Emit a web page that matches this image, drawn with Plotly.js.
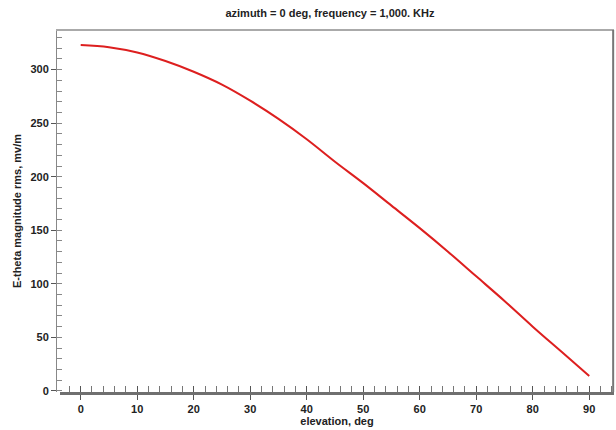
<!DOCTYPE html>
<html>
<head>
<meta charset="utf-8">
<script src="https://cdn.plot.ly/plotly-3.0.1.min.js"></script>
<style>html,body{margin:0;padding:0;background:#fff;}#chart{width:616px;height:430px;}</style>
</head>
<body>
<div id="chart"></div>
<script>
const elevationDeg = [0, 5, 10, 15, 20, 25, 30, 35, 40, 45, 50, 55, 60, 65, 70, 75, 80, 85, 90];
const eThetaRms = [323, 321, 316, 308, 298, 286, 271, 254, 235, 214, 194, 173, 152, 130, 107, 84, 60, 37, 14];
const chartTitle = "azimuth = 0 deg, frequency = 1,000. KHz";
const xTitle = "elevation, deg";
const yTitle = "E-theta magnitude rms, mv/m";

const fontFam = "Liberation Sans, Arial, sans-serif";
const tickFont = {family: fontFam, size: 11, color: "#222", weight: "bold"};

const data = [{
  x: elevationDeg, y: eThetaRms, type: "scatter", mode: "lines",
  line: {color: "#dd1f1f", width: 2, shape: "spline"},
  hoverinfo: "skip"
}];

const layout = {
  width: 616, height: 430,
  margin: {l: 56, r: 2, t: 30, b: 38},
  paper_bgcolor: "#fff", plot_bgcolor: "#fff",
  showlegend: false,
  title: {text: "<b>" + chartTitle + "</b>", font: {family: fontFam, size: 11, color: "#222"},
          x: 0.491, xref: "paper", xanchor: "center", y: 0.97, yref: "container", yanchor: "middle"},
  xaxis: {
    domain: [0.0072, 1], range: [-3.66, 94.38], showgrid: false, zeroline: false,
    showline: true, linecolor: "#6f6f6f", linewidth: 3,
    tickmode: "linear", tick0: 0, dtick: 10, ticks: "outside", ticklen: 5, tickwidth: 1, tickcolor: "#555",
    minor: {tickmode: "linear", tick0: 0, dtick: 2, ticks: "inside", ticklen: 6, tickwidth: 1, tickcolor: "#777"},
    tickfont: tickFont,
    title: {text: "<b>" + xTitle + "</b>", font: {family: fontFam, size: 11, color: "#222"}, standoff: 2}
  },
  xaxis2: {
    overlaying: "x", matches: "x", domain: [0.0072, 1], range: [-3.66, 94.38], anchor: "y",
    showgrid: false, zeroline: false, showline: false, showticklabels: false,
    tickmode: "linear", tick0: 0, dtick: 10, ticks: "inside", ticklen: 6, tickwidth: 1, tickcolor: "#555", side: "bottom"
  },
  yaxis: {
    anchor: "free", position: 0, range: [-1, 337], showgrid: false, zeroline: false,
    showline: true, linecolor: "#888", linewidth: 1,
    tickmode: "linear", tick0: 0, dtick: 50, ticks: "outside", ticklen: 5, tickwidth: 1, tickcolor: "#555",
    minor: {tickmode: "linear", tick0: 0, dtick: 10, ticks: "inside", ticklen: 5, tickwidth: 1, tickcolor: "#888"},
    tickfont: tickFont,
    title: {text: "<b>" + yTitle + "</b>", font: {family: fontFam, size: 11, color: "#222"}, standoff: 5}
  },
  shapes: [
    {type: "line", xref: "paper", yref: "paper", x0: 0, x1: 1, y0: 1, y1: 1, line: {color: "#aaa", width: 2}},
    {type: "line", xref: "paper", yref: "paper", x0: 0.9985, x1: 0.9985, y0: 0, y1: 1, line: {color: "#777", width: 2}}
  ]
};

data.push({x: [0], y: [null], xaxis: "x2", yaxis: "y", type: "scatter", mode: "lines", showlegend: false, hoverinfo: "skip"});

Plotly.newPlot("chart", data, layout, {displayModeBar: false, staticPlot: true});
</script>
</body>
</html>
